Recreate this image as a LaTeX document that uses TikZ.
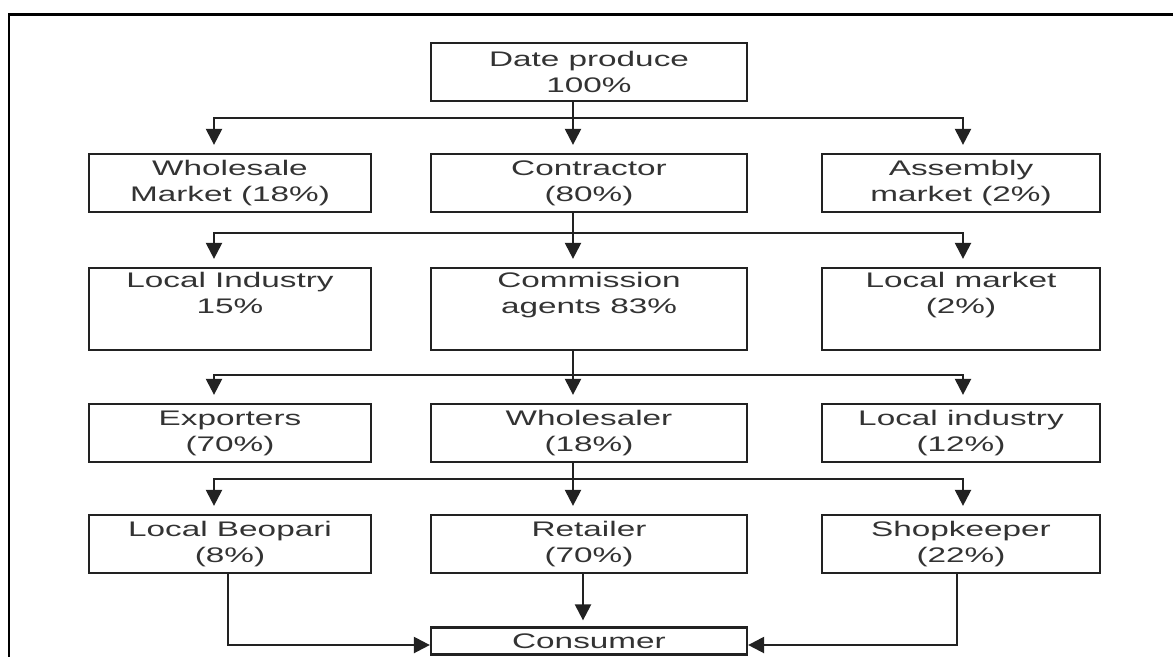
\documentclass[tikz,border=0pt]{standalone}
\usepackage{fontspec}
\setmainfont[FakeStretch=1.58]{Liberation Sans}
\usetikzlibrary{arrows.meta, positioning, calc}

\begin{document}
\begin{tikzpicture}[x=0.02cm, y=-0.02cm,
  box/.style={rectangle, draw=linegray, line width=1.3pt, inner sep=0pt, align=center,
    text=textgray, font=\fontsize{12}{14.8}\selectfont, minimum height=1.16cm},
  leftbox/.style={box, minimum width=5.64cm},
  midbox/.style={box, minimum width=6.32cm},
  rightbox/.style={box, minimum width=5.56cm},
  tallbox/.style={minimum height=1.64cm, text height=26pt, text depth=20.5pt},
  flow/.style={draw=linegray, line width=1.3pt, -{Triangle[width=0.32cm, length=0.32cm]}, shorten >=0.16cm},
  link/.style={draw=linegray, line width=1.3pt, -{Triangle[width=0.32cm, length=0.32cm]}}]
  % Define colors
  \definecolor{linegray}{RGB}{34,34,34}
  \definecolor{textgray}{RGB}{51,51,51}

  \useasboundingbox (0,0) rectangle (1173,657);

  % Outer frame
  \draw[line width=1.7pt] (1173,14) -- (9,14) -- (9,657);

  % Source
  \node[midbox] (produce) at (589,72) {Date produce\\100\%};

  % First level
  \node[leftbox] (wholemkt) at (230,183) {Wholesale\\Market (18\%)};
  \node[midbox] (contractor) at (589,183) {Contractor\\(80\%)};
  \node[rightbox] (assembly) at (961,183) {Assembly\\market (2\%)};

  % Second level
  \node[leftbox, tallbox] (localind) at (230,309) {Local Industry\\15\%};
  \node[midbox, tallbox] (commission) at (589,309) {Commission\\agents 83\%};
  \node[rightbox, tallbox] (localmkt) at (961,309) {Local market\\(2\%)};

  % Third level
  \node[leftbox] (exporters) at (230,433) {Exporters\\(70\%)};
  \node[midbox] (wholesaler) at (589,433) {Wholesaler\\(18\%)};
  \node[rightbox] (localindb) at (961,433) {Local industry\\(12\%)};

  % Fourth level
  \node[leftbox] (beopari) at (230,544) {Local Beopari\\(8\%)};
  \node[midbox] (retailer) at (589,544) {Retailer\\(70\%)};
  \node[rightbox] (shopkeeper) at (961,544) {Shopkeeper\\(22\%)};

  % End point
  \node[midbox, minimum height=0.54cm] (consumer) at (589,641) {Consumer};

  % Split points
  \coordinate (split1) at (573,118);
  \coordinate (split2) at (573,233);
  \coordinate (split3) at (573,375);
  \coordinate (split4) at (573,479);

  % Arrows from produce
  \draw[flow] ($(produce.south)+(-16,0)$) -- ($(contractor.north)+(-16,0)$);
  \draw[flow] (split1) -| ($(wholemkt.north)+(-16,0)$);
  \draw[flow] (split1) -| ($(assembly.north)+(2,0)$);

  % Arrows from contractor
  \draw[flow] ($(contractor.south)+(-16,0)$) -- ($(commission.north)+(-16,0)$);
  \draw[flow] (split2) -| ($(localind.north)+(-16,0)$);
  \draw[flow] (split2) -| ($(localmkt.north)+(2,0)$);

  % Arrows from commission agents
  \draw[flow] ($(commission.south)+(-16,0)$) -- ($(wholesaler.north)+(-16,0)$);
  \draw[flow] (split3) -| ($(exporters.north)+(-16,0)$);
  \draw[flow] (split3) -| ($(localindb.north)+(2,0)$);

  % Arrows from wholesaler
  \draw[flow] ($(wholesaler.south)+(-16,0)$) -- ($(retailer.north)+(-16,0)$);
  \draw[flow] (split4) -| ($(beopari.north)+(-16,0)$);
  \draw[flow] (split4) -| ($(shopkeeper.north)+(2,0)$);

  % Arrows to consumer
  \draw[flow, shorten >=0.12cm] ($(retailer.south)+(-6,0)$) -- ($(retailer.south |- consumer.north)+(-6,0)$);
  \draw[link] ($(beopari.south)+(-2,0)$) |- ($(consumer.west)+(0,4)$);
  \draw[link] ($(shopkeeper.south)+(-4,0)$) |- ($(consumer.east)+(0,4)$);
\end{tikzpicture}
\end{document}
